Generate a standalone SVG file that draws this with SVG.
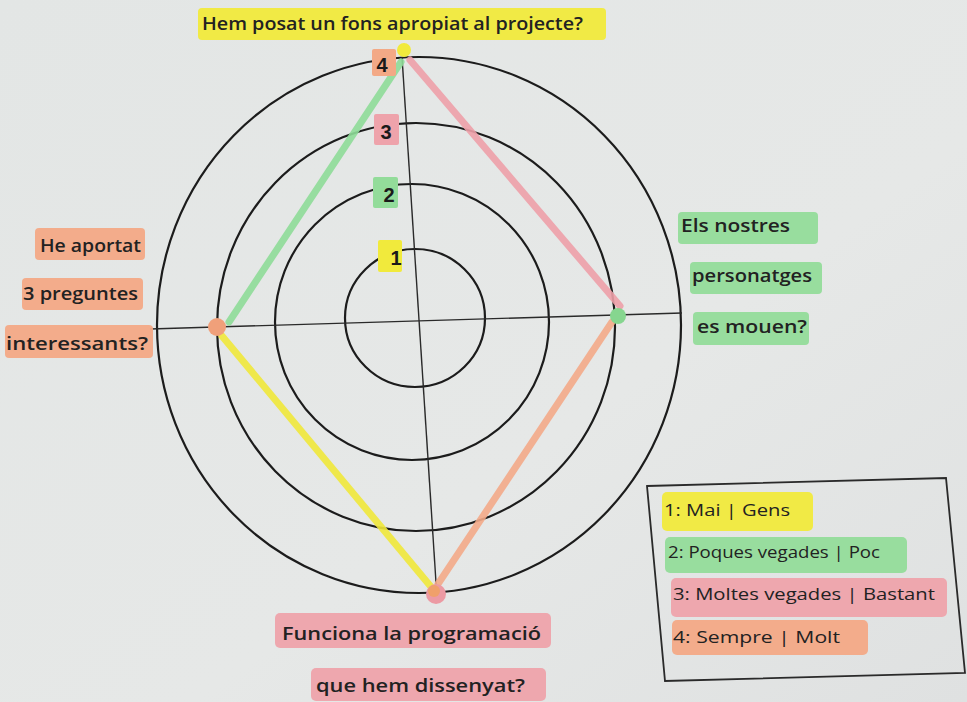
<svg xmlns="http://www.w3.org/2000/svg" width="967" height="702" viewBox="0 0 967 702">
<defs>
<linearGradient id="bg" x1="0" y1="0" x2="1" y2="1">
<stop offset="0" stop-color="#e3e6e5"/>
<stop offset="0.6" stop-color="#e6e8e7"/>
<stop offset="1" stop-color="#dfe1e1"/>
</linearGradient>
<style>
.ring{fill:none;stroke:#1c1c1c;stroke-width:2.2}
.axis{fill:none;stroke:#2a2a2a;stroke-width:1.4}
.t{font-family:"Open Sans","Liberation Sans",sans-serif;font-weight:600;font-size:18px;fill:#222}
.lg{font-family:"Open Sans","Liberation Sans",sans-serif;font-weight:400;font-size:17px;fill:#222}
.num{font-family:"Liberation Sans",sans-serif;font-weight:700;font-size:20px;fill:#1a1a1a;text-anchor:middle}
.y{fill:#f1ea3c}
.g{fill:#93dc9a}
.p{fill:#eea3ab}
.o{fill:#f3a986}
.hl{opacity:0.95}
.line{fill:none;stroke-width:7;stroke-linecap:round;opacity:0.9}
</style>
</defs>
<rect width="967" height="702" fill="url(#bg)"/>

<g id="grid">
<ellipse class="ring" cx="415" cy="318" rx="70" ry="69"/>
<ellipse class="ring" cx="412" cy="322" rx="137" ry="138"/>
<ellipse class="ring" cx="416" cy="327" rx="199" ry="204"/>
<ellipse class="ring" cx="419" cy="325" rx="262" ry="268"/>
<line class="axis" x1="150" y1="329" x2="682" y2="313"/>
<line class="axis" x1="402" y1="57" x2="437" y2="598"/>
</g>

<g id="connectors">
<line class="line" x1="401" y1="62" x2="229" y2="322" stroke="#8edb98"/>
<line class="line" x1="410" y1="60" x2="620" y2="306" stroke="#eda0a9"/>
<line class="line" x1="612" y1="322" x2="438" y2="584" stroke="#f3aa88"/>
<line class="line" x1="222" y1="336" x2="432" y2="588" stroke="#efe83a"/>
<circle cx="404" cy="50" r="7" fill="#f1ea3c"/>
<circle cx="618" cy="316" r="8" fill="#86d68f"/>
<circle cx="436" cy="594" r="10" fill="#ec9aa3"/>
<circle cx="434" cy="591" r="6" fill="#f0a06a"/>
<circle cx="217" cy="327" r="9" fill="#f0a07a"/>
</g>

<g id="scale-4"><rect class="o" x="372" y="49" width="24" height="27" rx="2"/><text class="num" x="382" y="72">4</text></g>
<g id="scale-3"><rect class="p" x="374" y="114" width="25" height="31" rx="2"/><text class="num" x="386" y="139">3</text></g>
<g id="scale-2"><rect class="g" x="373" y="177" width="25" height="31" rx="2"/><text class="num" x="389" y="202">2</text></g>
<g id="scale-1"><rect class="y" x="378" y="240" width="24" height="32" rx="2"/><text class="num" x="396" y="265">1</text></g>

<g id="title">
<rect class="y hl" x="198" y="8" width="408" height="32" rx="4"/>
<text class="t" x="202" y="30" textLength="381" lengthAdjust="spacingAndGlyphs">Hem posat un fons apropiat al projecte?</text>
</g>

<g id="label-left">
<rect class="o hl" x="35" y="228" width="110" height="32" rx="4"/>
<text class="t" x="40" y="252" textLength="101" lengthAdjust="spacingAndGlyphs">He aportat</text>
<rect class="o hl" x="22" y="278" width="121" height="32" rx="4"/>
<text class="t" x="23" y="300" textLength="115" lengthAdjust="spacingAndGlyphs">3 preguntes</text>
<rect class="o hl" x="5" y="325" width="148" height="33" rx="4"/>
<text class="t" x="6" y="350" textLength="142" lengthAdjust="spacingAndGlyphs">interessants?</text>
</g>

<g id="label-right">
<rect class="g hl" x="678" y="212" width="140" height="32" rx="4"/>
<text class="t" x="681" y="232" textLength="109" lengthAdjust="spacingAndGlyphs">Els nostres</text>
<rect class="g hl" x="690" y="262" width="132" height="32" rx="4"/>
<text class="t" x="692" y="282" textLength="120" lengthAdjust="spacingAndGlyphs">personatges</text>
<rect class="g hl" x="693" y="312" width="116" height="33" rx="4"/>
<text class="t" x="697" y="333" textLength="110" lengthAdjust="spacingAndGlyphs">es mouen?</text>
</g>

<g id="label-bottom">
<rect class="p hl" x="275" y="613" width="276" height="35" rx="5"/>
<text class="t" x="282" y="640" textLength="259" lengthAdjust="spacingAndGlyphs">Funciona la programació</text>
<rect class="p hl" x="311" y="668" width="235" height="33" rx="5"/>
<text class="t" x="316" y="692" textLength="209" lengthAdjust="spacingAndGlyphs">que hem dissenyat?</text>
</g>

<g id="legend">
<polygon points="647,486 946,478 965,673 665,681" fill="none" stroke="#2a2a2a" stroke-width="1.8"/>
<rect class="y hl" x="662" y="492" width="151" height="39" rx="5"/>
<text class="lg" x="664" y="516" textLength="126" lengthAdjust="spacingAndGlyphs">1: Mai | Gens</text>
<rect class="g hl" x="665" y="537" width="242" height="36" rx="5"/>
<text class="lg" x="668" y="558" textLength="212" lengthAdjust="spacingAndGlyphs">2: Poques vegades | Poc</text>
<rect class="p hl" x="671" y="578" width="276" height="39" rx="5"/>
<text class="lg" x="673" y="600" textLength="262" lengthAdjust="spacingAndGlyphs">3: Moltes vegades | Bastant</text>
<rect class="o hl" x="672" y="620" width="196" height="35" rx="5"/>
<text class="lg" x="673" y="643" textLength="167" lengthAdjust="spacingAndGlyphs">4: Sempre | Molt</text>
</g>
</svg>
